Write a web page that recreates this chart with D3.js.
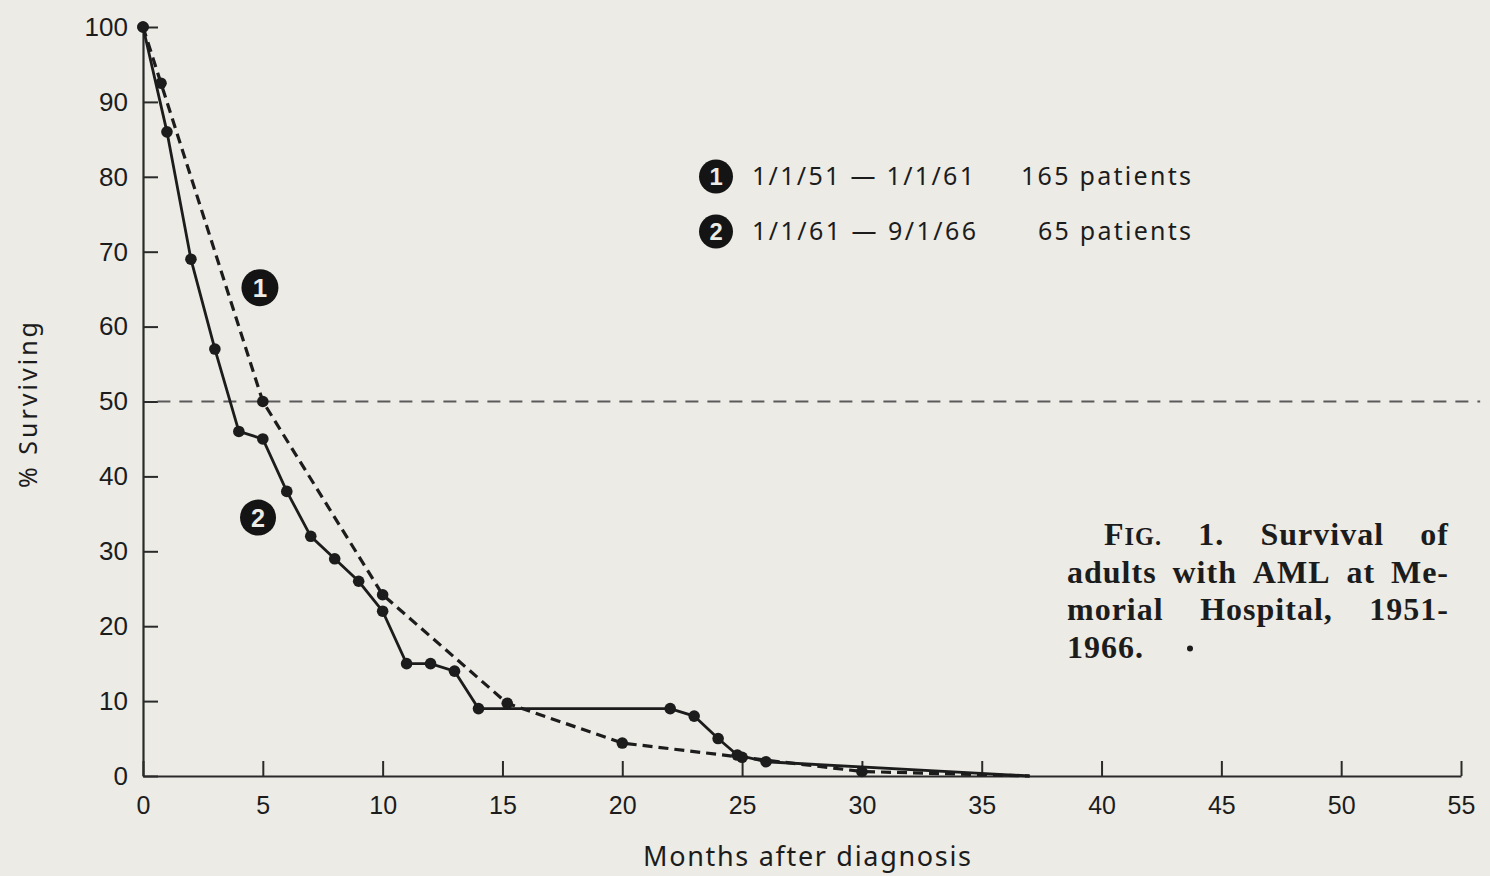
<!DOCTYPE html>
<html>
<head>
<meta charset="utf-8">
<script src="https://cdn.jsdelivr.net/npm/d3@7"></script>
<style>
  body { margin: 0; background: #ecebe6; }
  svg { display: block; }
  .tick text { font-family: "Liberation Sans", Arial, sans-serif; fill: #1c1c1c; }
</style>
</head>
<body>
<svg width="1490" height="876"></svg>
<script>
//series 1 = 1/1/51 - 1/1/61 (dashed), series 2 = 1/1/61 - 9/1/66 (solid)
const months1 = [0, 0.75, 5, 10, 15.2, 20, 25, 30, 37];
const surv1 = [100, 92.5, 50, 24.2, 9.7, 4.4, 2.5, 0.6, 0];
const months2 = [0, 1, 2, 3, 4, 5, 6, 7, 8, 9, 10, 11, 12, 13, 14, 22, 23, 24, 24.8, 26, 37];
const surv2 = [100, 86, 69, 57, 46, 45, 38, 32, 29, 26, 22, 15, 15, 14, 9, 9, 8, 5, 2.8, 1.9, 0];
const xTicks = [0, 5, 10, 15, 20, 25, 30, 35, 40, 45, 50, 55];
const yTicks = [0, 10, 20, 30, 40, 50, 60, 70, 80, 90, 100];
const medianLine = 50;
const legendRanges = ["1/1/51 \u2014 1/1/61", "1/1/61 \u2014 9/1/66"];
const legendCounts = ["165 patients", "65 patients"];
const captionLines = [
  ["FIG.", "1.", "Survival", "of"],
  ["adults", "with", "AML", "at", "Me-"],
  ["morial", "Hospital,", "1951-"],
  ["1966."]
];

const ink = "#1c1c1c";
const sans = "Noto Sans, Liberation Sans, Arial, sans-serif";
let svg = d3.select("svg");

svg.append("rect").attr("width", 1490).attr("height", 876).attr("fill", "#ecebe6");

let x = d3.scaleLinear().domain([0, 55]).range([143, 1461]);
let y = d3.scaleLinear().domain([0, 100]).range([776, 27]);

//axes, ticks point inward
let xAxis = svg.append("g")
  .attr("transform", "translate(0," + y(0) + ")")
  .call(d3.axisBottom(x).tickValues(xTicks).tickSizeInner(-15).tickSizeOuter(0).tickPadding(20));
let yAxis = svg.append("g")
  .attr("transform", "translate(" + x(0) + ",0)")
  .call(d3.axisLeft(y).tickValues(yTicks).tickSizeInner(-15).tickSizeOuter(0).tickPadding(15));

[xAxis, yAxis].forEach(function(a) {
  a.select(".domain").attr("stroke", "#2a2a2a").attr("stroke-width", 2.2);
  a.selectAll(".tick line").attr("stroke", "#2a2a2a").attr("stroke-width", 2);
  a.selectAll(".tick text").attr("font-size", 25).attr("fill", ink);
});
yAxis.selectAll(".tick text").attr("font-size", 26);

//axis titles
svg.append("text")
  .attr("x", 643)
  .attr("y", 866)
  .attr("textLength", 328)
  .attr("lengthAdjust", "spacing")
  .attr("font-family", sans)
  .attr("font-size", 27)
  .attr("fill", ink)
  .text("Months after diagnosis");

svg.append("text")
  .attr("transform", "translate(37,488) rotate(-90)")
  .attr("textLength", 166)
  .attr("lengthAdjust", "spacing")
  .attr("font-family", sans)
  .attr("font-size", 25)
  .attr("fill", ink)
  .text("% Surviving");

//50% line
svg.append("line")
  .attr("x1", x(0.6))
  .attr("x2", x(55.8))
  .attr("y1", y(medianLine))
  .attr("y2", y(medianLine))
  .attr("stroke", "#5a5a5a")
  .attr("stroke-width", 2)
  .attr("stroke-dasharray", "13,9");

//curves
let line = d3.line()
  .x(function(d) { return x(d[0]); })
  .y(function(d) { return y(d[1]); });

let data1 = months1.map(function(m, i) { return [m, surv1[i]]; });
let data2 = months2.map(function(m, i) { return [m, surv2[i]]; });

svg.append("path")
  .datum(data1)
  .attr("d", line)
  .attr("fill", "none")
  .attr("stroke", ink)
  .attr("stroke-width", 3.2)
  .attr("stroke-dasharray", "10,6");

svg.append("path")
  .datum(data2)
  .attr("d", line)
  .attr("fill", "none")
  .attr("stroke", ink)
  .attr("stroke-width", 2.8);

svg.selectAll(".dot")
  .data(data1.concat(data2).filter(function(d) { return d[1] > 0; }))
  .enter()
  .append("circle")
  .attr("class", "dot")
  .attr("cx", function(d) { return x(d[0]); })
  .attr("cy", function(d) { return y(d[1]); })
  .attr("r", 5.8)
  .attr("fill", ink);

//circled numbers
function badge(cx, cy, r, label) {
  svg.append("circle").attr("cx", cx).attr("cy", cy).attr("r", r).attr("fill", "#141414");
  svg.append("text")
    .attr("x", cx)
    .attr("y", cy)
    .attr("dy", "0.36em")
    .attr("text-anchor", "middle")
    .attr("font-family", "Liberation Sans, Arial, sans-serif")
    .attr("font-weight", "bold")
    .attr("font-size", r * 1.4)
    .attr("fill", "#ecebe6")
    .text(label);
}
badge(x(4.88), y(65.2), 18.5, "1");
badge(x(4.8), y(34.5), 18, "2");

//legend
legendRanges.forEach(function(t, i) {
  let ly = 185 + i * 55;
  badge(716, ly - 8.5, 17, String(i + 1));
  svg.append("text")
    .attr("x", 752)
    .attr("y", ly)
    .attr("textLength", i == 0 ? 222 : 224)
    .attr("lengthAdjust", "spacing")
    .attr("font-family", sans)
    .attr("font-size", 25)
    .attr("fill", ink)
    .text(t);
  svg.append("text")
    .attr("x", i == 0 ? 1021 : 1038)
    .attr("y", ly)
    .attr("textLength", i == 0 ? 170 : 153)
    .attr("lengthAdjust", "spacing")
    .attr("font-family", sans)
    .attr("font-size", 25)
    .attr("fill", ink)
    .text(legendCounts[i]);
});

//caption, justified by hand
let caption = svg.append("g")
  .attr("font-family", "Liberation Serif, Times New Roman, serif")
  .attr("font-weight", "bold")
  .attr("font-size", 32)
  .attr("letter-spacing", 1)
  .attr("fill", ink);

captionLines.forEach(function(words, li) {
  let ly = 545 + li * 37.5;
  let x0 = li == 0 ? 1104 : 1067;
  let nodes = words.map(function(w) {
    let t = caption.append("text").attr("y", ly);
    if (w == "FIG.") {
      t.append("tspan").text("F");
      t.append("tspan").style("font-size", "0.76em").text("IG.");
    } else {
      t.text(w);
    }
    return t;
  });
  let widths = nodes.map(function(n) { return n.node().getComputedTextLength(); });
  let gap = words.length > 1 ? (1449 - x0 - d3.sum(widths)) / (words.length - 1) : 0;
  let cx = x0;
  nodes.forEach(function(n, i) {
    n.attr("x", cx);
    cx += widths[i] + gap;
  });
  if (li == captionLines.length - 1) {
    caption.append("circle").attr("cx", cx + 46).attr("cy", ly - 9).attr("r", 3).attr("fill", ink);
  }
});
</script>
</body>
</html>
